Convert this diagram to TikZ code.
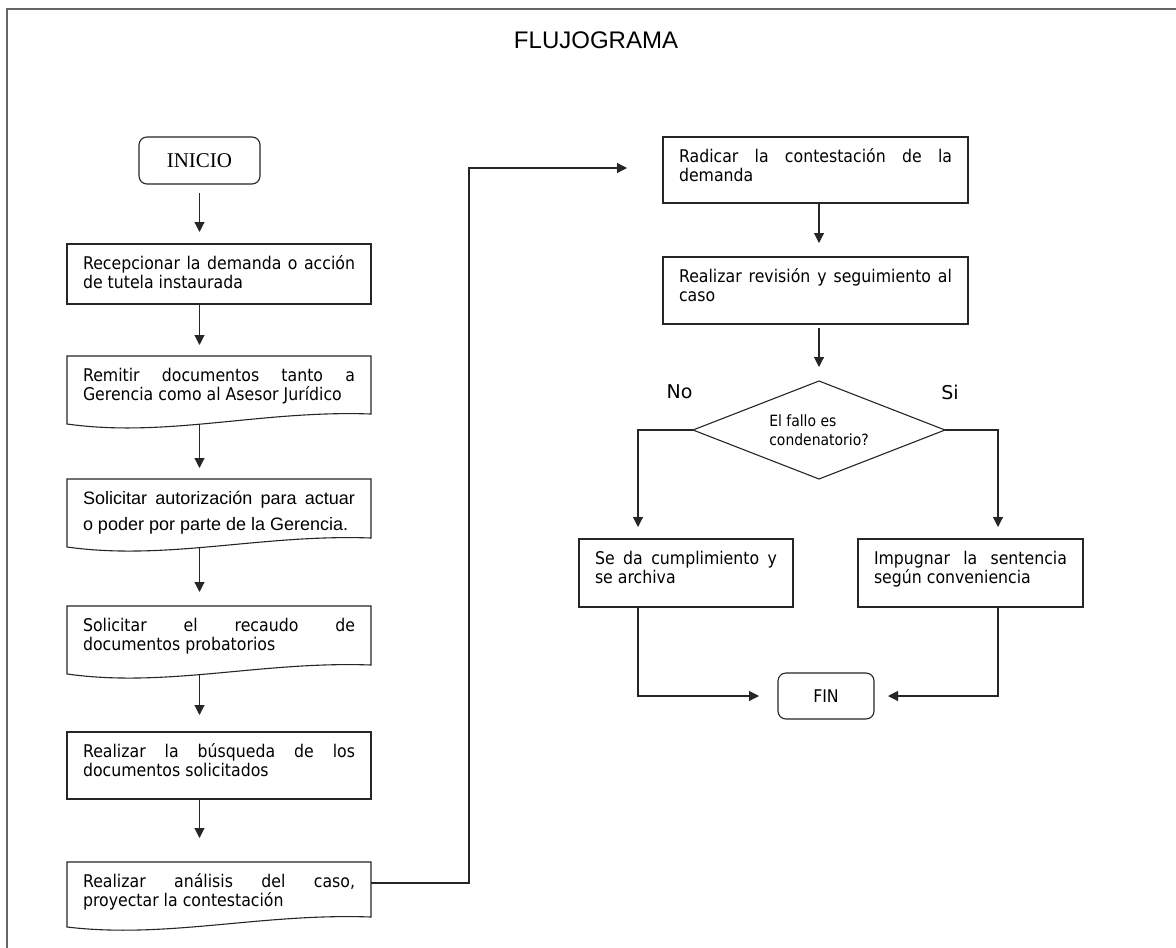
\documentclass[tikz,border=0pt]{standalone}
\usepackage{fontspec}
\usetikzlibrary{arrows.meta,shapes.geometric,calc}
\newfontfamily\vfont[FakeStretch=0.9]{DejaVu Sans}
\newfontfamily\dvfont{DejaVu Sans}
\newfontfamily\arfont{Liberation Sans}
\newfontfamily\sefont{Liberation Serif}
\newcommand\bxtext[3]{\parbox[t][#2][t]{#1}{\rule{0pt}{14pt}#3}}
\begin{document}
\begin{tikzpicture}[x=1pt,y=-1pt,
  ln/.style={line width=1.1pt, draw=black!85},
  arr/.style={ln, -{Triangle[length=10pt,width=10pt]}},
  stepbox/.style={ln, draw, rectangle, anchor=north west, outer sep=0pt,
    inner xsep=16pt, inner ysep=11pt, font=\vfont\fontsize{17.5}{19.5}\selectfont},
  docbox/.style={stepbox, draw=none},
  term/.style={ln, draw, rounded corners=8pt, inner sep=0pt, outer sep=0pt},
]
\useasboundingbox (0,0) rectangle (1176,948);
\fill[white] (0,0) rectangle (1176,948);
% frame
\draw[line width=1.6pt, black!60] (7,948) -- (7,9) -- (1176,9);

\node[font=\arfont\fontsize{24}{28}\selectfont] (title) at (596,40) {FLUJOGRAMA};

% left column
\node[term, minimum width=121pt, minimum height=47pt,
  font=\sefont\fontsize{21}{24}\selectfont] (inicio) at (199.5,160.5) {INICIO};

\node[stepbox] (b1) at (67,244) {\bxtext{272pt}{38pt}{Recepcionar la demanda o acción\linebreak de tutela instaurada}};

\node[docbox] (d2) at (67,356) {\bxtext{272pt}{46pt}{Remitir documentos tanto a\linebreak Gerencia como al Asesor Jurídico}};
\draw[ln] (d2.north west) -- (d2.south west) .. controls +(100,14) and +(-110,-4) .. ($(d2.south east)+(0,-10)$) -- (d2.north east) -- cycle;

\node[docbox, font=\arfont\fontsize{18}{26}\selectfont] (d3) at (67,479) {\bxtext{272pt}{46pt}{Solicitar autorización para actuar\linebreak o poder por parte de la Gerencia.}};
\draw[ln] (d3.north west) -- (d3.south west) .. controls +(100,14) and +(-110,-4) .. ($(d3.south east)+(0,-9)$) -- (d3.north east) -- cycle;

\node[docbox] (d4) at (67,606) {\bxtext{272pt}{46pt}{Solicitar el recaudo de\linebreak documentos probatorios}};
\draw[ln] (d4.north west) -- (d4.south west) .. controls +(100,14) and +(-110,-4) .. ($(d4.south east)+(0,-9)$) -- (d4.north east) -- cycle;

\node[stepbox] (b5) at (67,732) {\bxtext{272pt}{45pt}{Realizar la búsqueda de los\linebreak documentos solicitados}};

\node[docbox] (d6) at (67,862) {\bxtext{272pt}{43pt}{Realizar análisis del caso,\linebreak proyectar la contestación}};
\draw[ln] (d6.north west) -- (d6.south west) .. controls +(100,12) and +(-110,-4) .. ($(d6.south east)+(0,-10)$) -- (d6.north east) -- cycle;

% right column
\node[stepbox] (r1) at (663,137) {\bxtext{273pt}{44pt}{Radicar la contestación de la\linebreak demanda}};
\node[stepbox] (r2) at (663,257) {\bxtext{273pt}{45pt}{Realizar revisión y seguimiento al\linebreak caso}};

\node[ln, draw, diamond, aspect=2.5, minimum width=252pt, minimum height=98pt,
  inner sep=0pt, outer sep=0pt, align=left,
  font=\vfont\fontsize{15.5}{19}\selectfont] (dia) at (819,430) {El fallo es\\condenatorio?};

\node[font=\dvfont\fontsize{19}{22}\selectfont] (lno) at (679.5,392) {No};
\node[font=\dvfont\fontsize{19}{22}\selectfont] (lsi) at (950,392) {Si};

\node[stepbox] (no) at (579,539) {\bxtext{182pt}{46pt}{Se da cumplimiento y\linebreak se archiva}};
\node[stepbox] (si) at (858,539) {\bxtext{193pt}{46pt}{Impugnar la sentencia\linebreak según conveniencia}};

\node[term, minimum width=96pt, minimum height=46pt,
  font=\vfont\fontsize{17.5}{20}\selectfont] (fin) at (826,696) {FIN};

% connectors
\draw[arr, shorten <=9pt, shorten >=12pt] (inicio.south) -- (inicio.south |- b1.north);
\draw[arr, shorten >=11pt] (inicio.south |- b1.south) -- (inicio.south |- d2.north);
\draw[arr, shorten >=11pt] (inicio.south |- d2.south) -- (inicio.south |- d3.north);
\draw[arr, shorten >=14pt] (inicio.south |- d3.south) -- (inicio.south |- d4.north);
\draw[arr, shorten >=17pt] (inicio.south |- d4.south) -- (inicio.south |- b5.north);
\draw[arr, shorten >=24pt] (inicio.south |- b5.south) -- (inicio.south |- d6.north);

\coordinate (j1) at (469,168);
\draw[arr, shorten >=36pt] ($(d6.north east)+(0,21)$) -| (j1) -- (r1.west |- j1);

\draw[arr, shorten >=14pt] (dia.north |- r1.south) -- (dia.north |- r2.north);
\draw[arr, shorten <=4pt, shorten >=14pt] (dia.north |- r2.south) -- (dia.north);

\coordinate (cn) at ($(no.north west)+(59,0)$);
\coordinate (cs) at ($(si.north west)+(140,0)$);
\draw[arr, shorten >=12pt] (dia.west) -| (cn);
\draw[arr, shorten >=12pt] (dia.east) -| (cs);
\draw[arr, shorten >=19pt] (cn |- no.south) |- (fin.west);
\draw[arr, shorten >=14pt] (cs |- si.south) |- (fin.east);
\end{tikzpicture}
\end{document}
